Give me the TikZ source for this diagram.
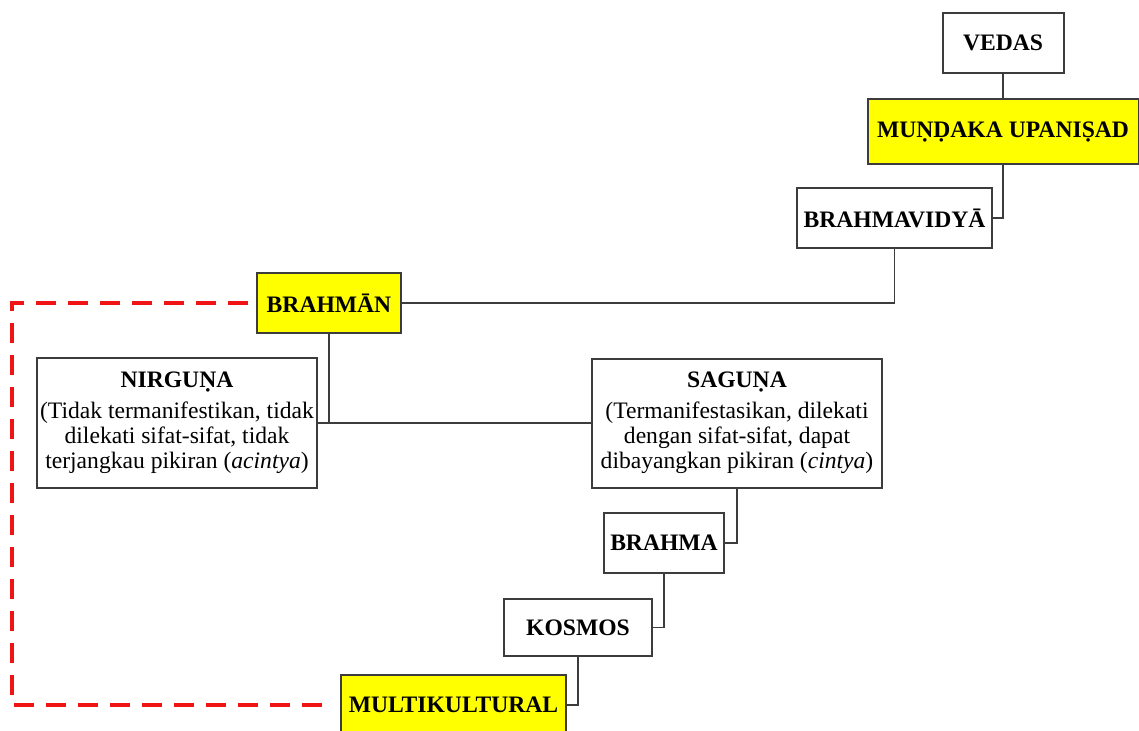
\documentclass[tikz,border=0pt]{standalone}
\usepackage{fontspec}
\setmainfont{Liberation Serif}
\usetikzlibrary{positioning}

\definecolor{boxline}{RGB}{60,60,60}
\definecolor{hiyellow}{RGB}{255,255,0}
\definecolor{dashred}{RGB}{240,20,20}

\tikzset{
  box/.style={draw=boxline, line width=1pt, fill=white, rectangle, inner sep=0pt,
    align=center, font=\fontsize{11.8}{12.5}\selectfont\bfseries},
  hibox/.style={box, fill=hiyellow},
  textbox/.style={box, font=\fontsize{11.8}{12.5}\selectfont},
  link/.style={draw=boxline, line width=0.75pt},
  reddash/.style={draw=dashred, line width=2pt, dash pattern=on 10pt off 6pt,
    shorten <=4pt, shorten >=3pt}
}

\begin{document}
\begin{tikzpicture}[x=0.5pt, y=-0.5pt]
        \useasboundingbox (0,0) rectangle (1139,730);

        % Top of the chain
        \node[box, minimum width=60.5pt, minimum height=30pt] (vedas) at (1003,43) {VEDAS};
        \node[hibox, minimum width=135.5pt, minimum height=32.5pt] (mundaka) at (1003,131.5) {MUṆḌAKA UPANIṢAD};
        \node[box, minimum width=97.5pt, minimum height=30pt] (brahmavidya) at (894.5,218) {BRAHMAVIDYĀ};
        \node[hibox, minimum width=72pt, minimum height=30pt] (brahman) at (329,303) {BRAHMĀN};

        % The two aspects
        \node[textbox, minimum width=140pt, minimum height=65pt] (nirguna) at (177,423)
            {\textbf{NIRGUṆA}\\[3pt](Tidak termanifestikan, tidak\\dilekati sifat-sifat, tidak\\terjangkau pikiran (\textit{acintya})};
        \node[textbox, minimum width=145pt, minimum height=64.5pt] (saguna) at (737,423)
            {\textbf{SAGUṆA}\\[3pt](Termanifestasikan, dilekati\\dengan sifat-sifat, dapat\\dibayangkan pikiran (\textit{cintya})};

        % Down to the world
        \node[box, minimum width=60pt, minimum height=30pt] (brahma) at (664,543) {BRAHMA};
        \node[box, minimum width=74pt, minimum height=28.5pt] (kosmos) at (578,627.5) {KOSMOS};
        \node[hibox, minimum width=112.5pt, minimum height=30pt] (multi) at (453.5,705) {MULTIKULTURAL};

        % Connectors
        \draw[link] (vedas) -- (mundaka);
        \draw[link] (mundaka.south) |- (brahmavidya.east);
        \draw[link] (brahmavidya.south) |- (brahman.east);
        \draw[link] (brahman.south) -- (brahman.south |- nirguna.east);
        \draw[link] (nirguna.east) -- (saguna.west);
        \draw[link] (saguna.south) |- (brahma.east);
        \draw[link] (brahma.south) |- (kosmos.east);
        \draw[link] (kosmos.south) |- (multi.east);

        % Red dashed return line
        \coordinate (corner) at (12,303);
        \draw[reddash] (brahman.west) -- (corner) |- (multi.west);
    \end{tikzpicture}
\end{document}
